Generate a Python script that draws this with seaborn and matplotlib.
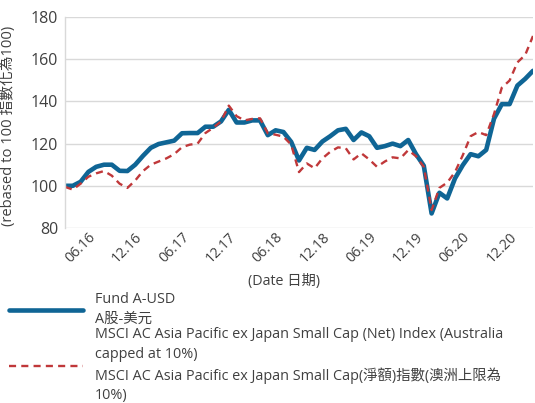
import numpy as np
import pandas as pd
import matplotlib
matplotlib.use("Agg")
import matplotlib.pyplot as plt
import seaborn as sns

# ---- data ----
fund = [100, 100, 101.9, 106.6, 109, 110, 110, 107.1, 107, 110,
        114.2, 118, 119.8, 120.6, 121.4, 124.9, 125, 125, 128, 128,
        130.5, 136, 130, 130, 131, 131, 124, 126.3, 125.5, 120.8,
        112, 118, 117, 121, 123.5, 126.3, 127, 121.7, 125.3, 123.5,
        118, 118.8, 120, 118.8, 121.7, 115, 109.5, 86.9, 96.7, 94,
        103.5, 109.8, 115, 114, 117, 131.8, 138.7, 138.7, 147.5, 150.7,
        154.5]
index_ = [99.5, 98.2, 101, 104.3, 105.9, 107, 104.8, 101, 99, 102.5,
          107, 110, 111.5, 113, 115, 118.3, 119.5, 120, 125, 127.5,
          130.5, 138, 133, 131, 131.7, 132, 124.9, 124.2, 123.3, 119.5,
          106.5, 110.6, 108.3, 113, 116.1, 118.2, 117.8, 112.5, 115.4, 112.5,
          109, 111.5, 113.5, 113, 116.9, 114, 109, 88.5, 99, 101.5,
          106.5, 114.5, 123.5, 125.5, 124, 134, 146.5, 149.9, 158.5, 162,
          171]
tick_labels = ["06.16", "12.16", "06.17", "12.17", "06.18",
               "12.18", "06.19", "12.19", "06.20", "12.20"]
first_tick = 2
tick_step = 6

fund_label = "Fund A-USD\nA股-美元"
index_label = ("MSCI AC Asia Pacific ex Japan Small Cap (Net) Index (Australia\n"
               "capped at 10%)\n"
               "MSCI AC Asia Pacific ex Japan Small Cap(淨額)指數(澳洲上限為\n"
               "10%)")
y_label = "(rebased to 100 指數化為100)"
x_label = "(Date 日期)"

df = pd.DataFrame({"t": np.arange(len(fund)), "fund": fund, "index": index_})

# ---- style ----
sns.set_theme(style="whitegrid")
plt.rcParams["font.family"] = ["Open Sans", "Noto Sans CJK TC", "DejaVu Sans"]
text_color = "#404040"
blue = "#0F6595"
red = "#C0383A"

fig = plt.figure(figsize=(5.35, 4.03), dpi=100)
ax = fig.add_axes([65 / 535, 1 - 228 / 403, 468 / 535, 211 / 403])

sns.lineplot(data=df, x="t", y="fund", ax=ax, color=blue, linewidth=3.3,
             label=fund_label)
sns.lineplot(data=df, x="t", y="index", ax=ax, color=red, linewidth=1.7,
             label=index_label)
ax.lines[1].set_dashes([3.0, 2.2])
ax.lines[1].set_dash_capstyle("butt")

ax.set_xlim(0, len(fund) - 1)
ax.set_ylim(80, 180)
ax.set_yticks(np.arange(80, 181, 20))
ax.set_xticks(np.arange(len(tick_labels)) * tick_step + first_tick)
ax.set_xticklabels(tick_labels, rotation=45, ha="center", fontsize=10.3,
                   color=text_color)
ax.tick_params(axis="y", labelsize=11.5, labelcolor=text_color, pad=5, length=0)
ax.tick_params(axis="x", pad=1, length=0)
ax.grid(axis="x", visible=False)
ax.grid(axis="y", color="#D9D9D9", linewidth=1.0)
for s in ["top", "right", "bottom"]:
    ax.spines[s].set_visible(False)
ax.spines["left"].set_color("#D9D9D9")
ax.spines["left"].set_linewidth(1.0)

ax.set_ylabel(y_label, fontsize=10.6, color=text_color)
ax.yaxis.set_label_coords(-0.105, 0.485)
ax.set_xlabel(x_label, fontsize=10.3, color=text_color)
ax.xaxis.set_label_coords(0.468, -0.22)

ax.legend_.remove()
handles, labels = ax.get_legend_handles_labels()
leg = fig.legend(handles, labels, loc="upper left",
                 bbox_to_anchor=(5 / 535, 1 - 288 / 403), frameon=False,
                 fontsize=10.4, handlelength=5.1, handletextpad=0.8,
                 labelspacing=0.02, borderaxespad=0, borderpad=0.3)
for t in leg.get_texts():
    t.set_color(text_color)
    t.set_linespacing(1.41)

fig.savefig("out.png", dpi=100)
